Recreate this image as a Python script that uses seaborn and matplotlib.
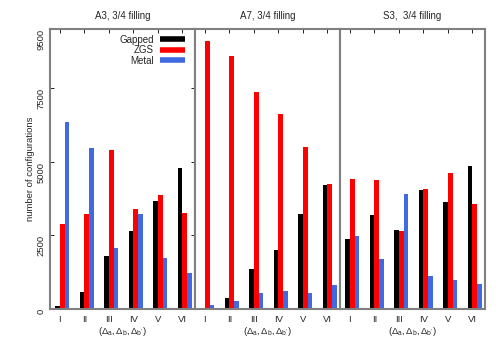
import numpy as np
import pandas as pd
import matplotlib
matplotlib.use("Agg")
import matplotlib.pyplot as plt
import seaborn as sns
from matplotlib.lines import Line2D

# ---------------------------------------------------------------------------
# Data
# ---------------------------------------------------------------------------
CATEGORIES = ["I", "II", "III", "IV", "V", "VI"]
PANEL_TITLES = ["A3, 3/4 filling", "A7, 3/4 filling", "S3,  3/4 filling"]
STATES = ["Gapped", "ZGS", "Metal"]

a3_gapped = [100, 585, 1790, 2640, 3655, 4780]
a3_zgs = [2900, 3215, 5380, 3410, 3880, 3260]
a3_metal = [6360, 5470, 2075, 3215, 1725, 1220]

a7_gapped = [50, 385, 1355, 2020, 3215, 4195]
a7_zgs = [9100, 8600, 7380, 6620, 5515, 4230]
a7_metal = [135, 270, 530, 610, 530, 810]

s3_gapped = [2370, 3180, 2670, 4050, 3645, 4850]
s3_zgs = [4400, 4365, 2640, 4085, 4625, 3575]
s3_metal = [2480, 1700, 3915, 1130, 980, 835]

Y_TICKS = [0, 2500, 5000, 7500, 9500]
COLORS = {"Gapped": "#000000", "ZGS": "#ff0000", "Metal": "#4169e1"}
FRAME = "#808080"

sns.set_style("white")
plt.rcParams["font.family"] = ["Liberation Sans", "DejaVu Sans"]
plt.rcParams["mathtext.fontset"] = "custom"
plt.rcParams["mathtext.rm"] = "Liberation Sans"
plt.rcParams["mathtext.it"] = "Liberation Sans"


def panel_frame(gapped, zgs, metal):
    rows = []
    for i, cat in enumerate(CATEGORIES):
        for state, vals in zip(STATES, (gapped, zgs, metal)):
            # gnuplot-style histogram: the group starts at the tic
            rows.append({"pos": i + 1 + 0.1, "state": state, "count": vals[i]})
    return pd.DataFrame(rows)


panels = [
    panel_frame(a3_gapped, a3_zgs, a3_metal),
    panel_frame(a7_gapped, a7_zgs, a7_metal),
    panel_frame(s3_gapped, s3_zgs, s3_metal),
]

fig, axes = plt.subplots(1, 3, figsize=(5, 3.5), dpi=100, sharey=True)
fig.subplots_adjust(left=0.1, right=0.97, bottom=0.117, top=0.917, wspace=0)

for k, (ax, df, title) in enumerate(zip(axes, panels, PANEL_TITLES)):
    sns.barplot(data=df, x="pos", y="count", hue="state", hue_order=STATES,
                palette=COLORS, saturation=1, native_scale=True, width=0.57,
                dodge=True, linewidth=0, legend=False, ax=ax)
    ax.set_xlim(0.6, 6.52)
    ax.set_ylim(0, 9500)
    ax.set_xticks(range(1, 7))
    ax.set_xticklabels(CATEGORIES, fontsize=6.8)
    ax.set_title(title, fontsize=7, pad=7)
    ax.set_xlabel(r"$(\Delta_a,\Delta_b,\Delta_{b^{\prime}})$", fontsize=6.8,
                  labelpad=1)
    ax.set_ylabel("")
    for sp in ax.spines.values():
        sp.set_color(FRAME)
        sp.set_linewidth(1.5)
    ax.tick_params(axis="x", which="both", direction="in", top=True,
                   bottom=False, labelbottom=True, length=3, width=0.6,
                   color="black", pad=4)
    if k == 0:
        ax.set_yticks(Y_TICKS)
        ax.set_yticklabels([str(v) for v in Y_TICKS], rotation=90,
                           fontsize=6.8)
        ax.tick_params(axis="y", direction="in", left=True, right=True,
                       length=3, width=0.6, color="black", pad=3)
        # gnuplot hangs the rotated labels just below their tic
        for lbl in ax.get_yticklabels():
            lbl.set_rotation_mode("anchor")
            lbl.set_ha("right")
            lbl.set_va("bottom")
        ax.set_ylabel("number of configurations", fontsize=6.8, labelpad=1)
    else:
        ax.tick_params(axis="y", left=False, right=False, labelleft=False)

# legend in the first panel
handles = [Line2D([0], [0], color=COLORS[s], lw=4, solid_capstyle="butt")
           for s in STATES]
leg = axes[0].legend(handles, STATES, loc="upper right",
                     bbox_to_anchor=(0.97, 1.0), frameon=False, fontsize=7,
                     handlelength=2.6, handletextpad=0.6, labelspacing=0.05,
                     markerfirst=False, borderaxespad=0.2)
for t in leg.get_texts():
    t.set_ha("right")

fig.savefig("out.png", dpi=100)
